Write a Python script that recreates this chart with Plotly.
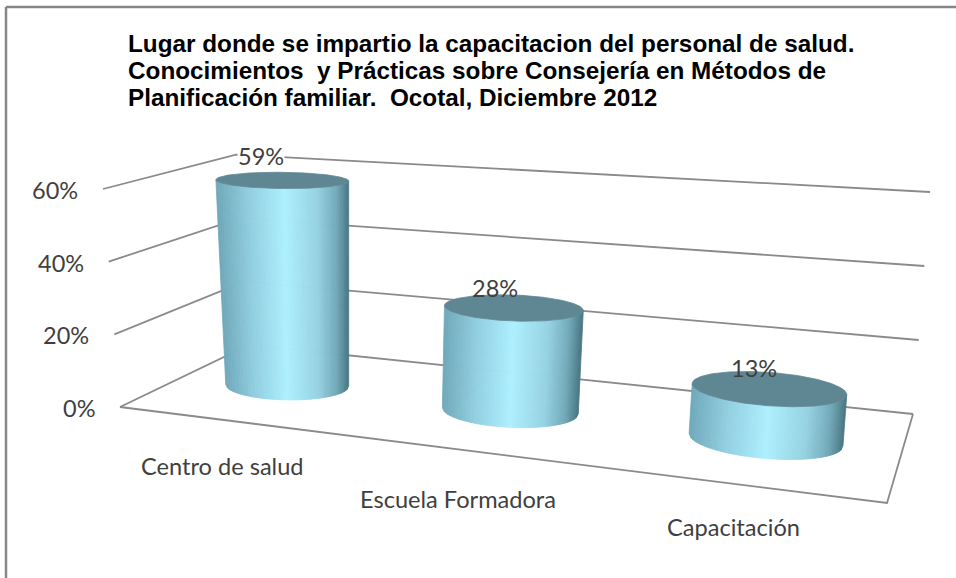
import numpy as np
import plotly.graph_objects as go

categories = ["Centro de salud", "Escuela Formadora", "Capacitación"]
values = [0.59, 0.28, 0.13]
value_labels = ["59%", "28%", "13%"]
ticks = [0.0, 0.2, 0.4, 0.6]
tick_labels = ["0%", "20%", "40%", "60%"]
title_lines = ["Lugar donde se impartio la capacitacion del personal de salud.",
               "Conocimientos  y Prácticas sobre Consejería en Métodos de",
               "Planificación familiar.  Ocotal, Diciembre 2012"]

# box of the 3-D chart on the axes: front-left, front-right, back-right, back-left
FLOOR = np.array([[120, 407], [887, 503], [913, 414], [249, 345]], float)
TOP = np.array([[103, 189], [907, 238], [930, 192], [236, 154.6]], float)
ZMAX = 0.6
UNIT = np.array([[0, 0], [1, 0], [1, 1], [0, 1]], float)
BAR_A = [0.16, 0.495, 0.835]
BAR_B = 0.5
RA, RB = 0.085, 0.19
TEXT = "#3f3f3f"
LABEL_SHIFT = [(-21, 24), (-19, 20), (-15, 20)]
CAT_SHIFT = [(-1, -46), (-4, -49), (-5, -43)]


def homography(dst):
    A, y = [], []
    for (u, v), (x, w) in zip(UNIT, dst):
        A.append([u, v, 1, 0, 0, 0, -u * x, -v * x]); y.append(x)
        A.append([0, 0, 0, u, v, 1, -u * w, -v * w]); y.append(w)
    h = np.linalg.solve(np.array(A), np.array(y))
    return np.append(h, 1).reshape(3, 3)


def project(a, b, level):
    H = homography(FLOOR + (TOP - FLOOR) * level / ZMAX)
    a, b = np.asarray(a, float), np.asarray(b, float)
    p = H @ np.vstack([a, b, np.ones_like(a)])
    return p[0] / p[2], p[1] / p[2]


STOPS = [(0, (111, 168, 186)), (.25, (146, 208, 226)), (.5, (174, 240, 255)),
         (.75, (150, 210, 226)), (.9, (115, 170, 185)), (1, (72, 118, 130))]


def shade(t):
    xs = [s[0] for s in STOPS]
    return "rgb(%d,%d,%d)" % tuple(np.interp(t, xs, [s[1][i] for s in STOPS]) for i in range(3))


fig = go.Figure()
LINE = dict(color="#8a8a8a", width=1.8)


def seg(xs, ys, line=LINE):
    fig.add_trace(go.Scatter(x=xs, y=ys, mode="lines", line=line, hoverinfo="skip", showlegend=False))


for lv in ticks:
    x, y = project([0, 0, 1], [0, 1, 1], lv)
    seg(x, y)
x, y = project([0, 1, 1], [0, 0, 1], 0)
seg(x, y)

ann = []
for i, v in enumerate(values):
    grow = 1.05 + 0.085 * BAR_A[i]
    ra, rb = RA * grow, RB * grow
    phi = np.radians(np.arange(360))
    ca, sa = BAR_A[i] + ra * np.cos(phi), BAR_B + rb * np.sin(phi)
    bx, by = project(ca, sa, 0)
    tx, ty = project(ca, sa, v)
    iL, iR = int(np.argmin(bx)), int(np.argmax(bx))
    steps = (iR - iL) % 360
    if by[(iL + steps // 2) % 360] < by[(iL - (360 - steps) // 2) % 360]:
        steps = -((iL - iR) % 360)
    N = 70
    s = np.arccos(1 - 2 * np.arange(N + 1) / N) / np.pi
    ph = phi[iL] + s * np.radians(steps)
    ca2, sa2 = BAR_A[i] + ra * np.cos(ph), BAR_B + rb * np.sin(ph)
    bx2, by2 = project(ca2, sa2, 0)
    tx2, ty2 = project(ca2, sa2, v)
    for k in range(N):
        c = shade((k + .5) / N)
        fig.add_trace(go.Scatter(
            x=[tx2[k], tx2[k + 1], bx2[k + 1], bx2[k], tx2[k]],
            y=[ty2[k], ty2[k + 1], by2[k + 1], by2[k], ty2[k]],
            mode="lines", fill="toself", fillcolor=c, line=dict(color=c, width=0.8),
            hoverinfo="skip", showlegend=False))
    fig.add_trace(go.Scatter(x=np.append(tx, tx[0]), y=np.append(ty, ty[0]), mode="lines", fill="toself",
                             fillcolor="#5f8793", line=dict(color="#5f8793", width=0.8),
                             hoverinfo="skip", showlegend=False))
    cx, cy = project([BAR_A[i]], [BAR_B], v)
    ann.append(dict(x=cx[0], y=cy[0], text=value_labels[i], xshift=LABEL_SHIFT[i][0], yshift=LABEL_SHIFT[i][1],
                    showarrow=False, borderpad=0, font=dict(family="Lato", size=23.5, color=TEXT),
                    bgcolor="white" if i == 0 else None))
    fx, fy = project([BAR_A[i]], [0], 0)
    ann.append(dict(x=fx[0], y=fy[0], text=categories[i], showarrow=False,
                    xshift=CAT_SHIFT[i][0], yshift=CAT_SHIFT[i][1],
                    font=dict(family="Lato", size=23.6, color=TEXT)))

for lv, lab in zip(ticks, tick_labels):
    x, y = project([0], [0], lv)
    ann.append(dict(x=x[0], y=y[0], text=lab, showarrow=False, xanchor="right", xshift=-23, yshift=-1,
                    font=dict(family="Lato", size=23.5, color=TEXT)))

for j, line in enumerate(title_lines):
    ann.append(dict(x=126, y=43.5 + 27 * j, xanchor="left", yanchor="middle", align="left", showarrow=False,
                    text="<b>" + line + "</b>",
                    font=dict(family="Liberation Sans", size=24.3, color="#000000")))

fig.update_layout(
    width=956, height=578, margin=dict(l=0, r=0, t=0, b=0), showlegend=False,
    paper_bgcolor="white", plot_bgcolor="white", annotations=ann,
    xaxis=dict(range=[0, 956], visible=False, fixedrange=True),
    yaxis=dict(range=[578, 0], visible=False, fixedrange=True),
    shapes=[dict(type="line", x0=6, x1=956, y0=7, y1=7, line=dict(color="#868686", width=2.5)),
            dict(type="line", x0=6, x1=6, y0=7, y1=578, line=dict(color="#868686", width=2.5))],
)
fig.write_html("out.html", config={"displayModeBar": False},
               post_script="document.body.style.margin='0';document.body.style.overflow='hidden';")
